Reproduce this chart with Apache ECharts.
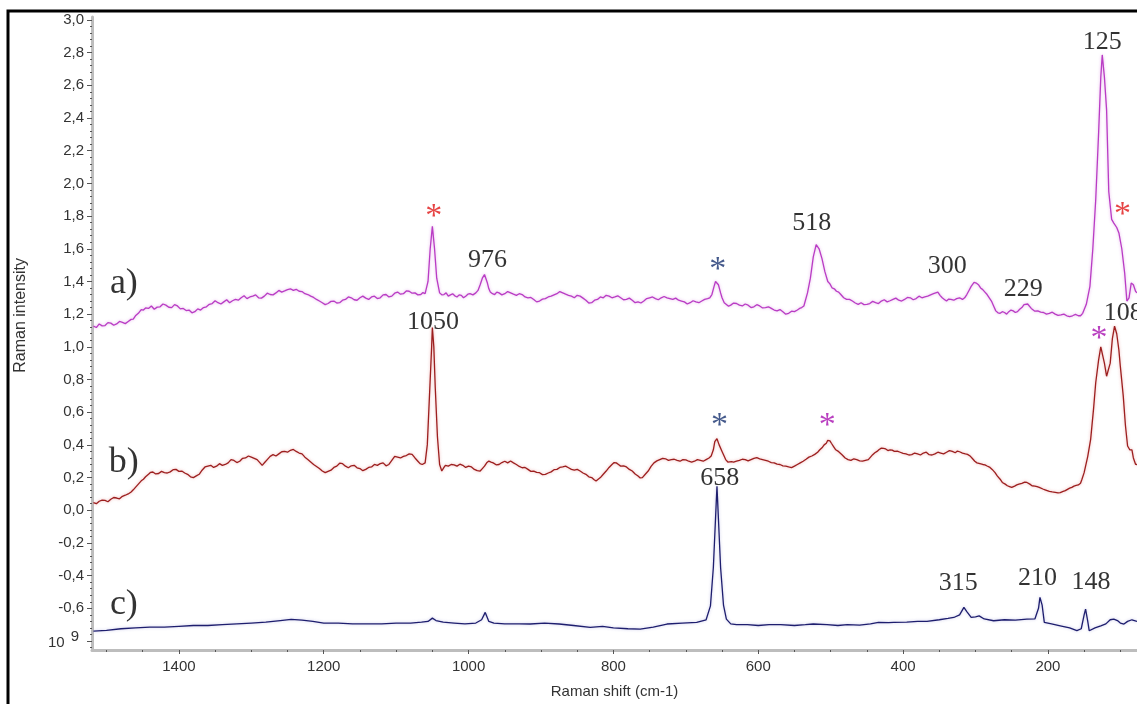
<!DOCTYPE html>
<html>
<head>
<meta charset="utf-8">
<title>Raman spectra</title>
<script src="https://cdn.jsdelivr.net/npm/echarts@6/dist/echarts.min.js"></script>
<style>
  html, body { margin: 0; padding: 0; background: #fff; }
  #chart { width: 1137px; height: 704px; }
</style>
</head>
<body>
<div id="chart"></div>
<script>
// Spectrum a): [Raman shift (cm-1), intensity]
const spectrumA = [
  [1518,1.127],[1514,1.118],[1510,1.14],[1506,1.128],[1502,1.13],[1498,1.148],[1494,1.145],[1490,1.132],[1486,1.14],[1482,1.155],
  [1478,1.15],[1474,1.142],[1470,1.155],[1466,1.168],[1463,1.17],[1460,1.19],[1456,1.205],[1452,1.228],[1449,1.225],[1446,1.238],
  [1442,1.235],[1438,1.25],[1434,1.23],[1430,1.243],[1426,1.245],[1422,1.262],[1418,1.255],[1414,1.242],[1410,1.24],[1406,1.258],
  [1402,1.25],[1398,1.232],[1394,1.235],[1390,1.222],[1386,1.225],[1382,1.208],[1378,1.215],[1374,1.232],[1370,1.225],[1366,1.24],
  [1362,1.245],[1358,1.26],[1354,1.265],[1350,1.282],[1346,1.27],[1342,1.262],[1338,1.275],[1334,1.288],[1330,1.27],[1326,1.282],
  [1322,1.29],[1318,1.285],[1314,1.3],[1310,1.312],[1306,1.295],[1302,1.305],[1298,1.31],[1294,1.318],[1290,1.3],[1286,1.298],
  [1282,1.31],[1278,1.328],[1274,1.32],[1270,1.318],[1266,1.33],[1262,1.345],[1258,1.335],[1254,1.342],[1250,1.35],[1246,1.355],
  [1242,1.345],[1238,1.352],[1234,1.34],[1230,1.338],[1226,1.325],[1222,1.32],[1218,1.31],[1214,1.302],[1210,1.29],[1206,1.28],
  [1202,1.27],[1198,1.258],[1194,1.265],[1190,1.278],[1186,1.28],[1182,1.268],[1178,1.27],[1174,1.285],[1170,1.29],[1166,1.305],
  [1162,1.3],[1158,1.288],[1154,1.285],[1150,1.3],[1146,1.31],[1142,1.298],[1138,1.29],[1134,1.305],[1130,1.31],[1126,1.295],
  [1122,1.3],[1118,1.318],[1114,1.32],[1110,1.305],[1106,1.31],[1102,1.328],[1098,1.335],[1094,1.322],[1090,1.325],[1086,1.342],
  [1082,1.34],[1078,1.328],[1074,1.33],[1070,1.318],[1066,1.32],[1063,1.332],[1060,1.325],[1056,1.4],[1053,1.6],[1050,1.737],
  [1047,1.6],[1044,1.42],[1040,1.33],[1037,1.318],[1034,1.32],[1031,1.33],[1028,1.31],[1025,1.318],[1022,1.325],[1019,1.312],
  [1016,1.305],[1013,1.318],[1010,1.315],[1007,1.3],[1004,1.31],[1001,1.322],[998,1.325],[994,1.318],[990,1.33],[987,1.345],
  [984,1.38],[981,1.42],[978,1.442],[976,1.43],[974,1.39],[972,1.355],[970,1.335],[967,1.325],[964,1.32],[961,1.335],
  [958,1.33],[954,1.318],[950,1.325],[946,1.338],[942,1.33],[938,1.322],[934,1.315],[930,1.325],[926,1.32],[922,1.305],
  [918,1.3],[914,1.302],[910,1.29],[906,1.275],[902,1.28],[898,1.292],[894,1.295],[890,1.305],[886,1.31],[882,1.318],
  [878,1.325],[874,1.338],[870,1.33],[866,1.322],[862,1.315],[858,1.31],[854,1.3],[850,1.315],[846,1.31],[842,1.298],
  [838,1.285],[834,1.268],[830,1.27],[826,1.285],[822,1.29],[818,1.305],[814,1.3],[810,1.315],[806,1.31],[802,1.3],
  [798,1.305],[794,1.312],[790,1.3],[786,1.288],[782,1.29],[778,1.298],[774,1.285],[770,1.27],[766,1.275],[762,1.268],
  [758,1.28],[754,1.295],[750,1.3],[746,1.305],[742,1.295],[738,1.288],[734,1.3],[730,1.308],[726,1.3],[722,1.295],
  [718,1.29],[714,1.298],[710,1.285],[706,1.28],[702,1.275],[698,1.262],[694,1.27],[690,1.282],[686,1.275],[682,1.27],
  [678,1.28],[674,1.29],[670,1.295],[667,1.3],[664,1.32],[661,1.37],[659,1.4],[657,1.4],[655,1.38],[652,1.33],
  [650,1.3],[647,1.27],[645,1.26],[641,1.248],[638,1.255],[634,1.268],[630,1.265],[626,1.255],[622,1.25],[618,1.262],
  [614,1.255],[610,1.24],[606,1.245],[602,1.258],[598,1.25],[594,1.238],[590,1.24],[586,1.245],[582,1.235],[578,1.225],
  [574,1.22],[570,1.228],[566,1.215],[562,1.2],[558,1.205],[554,1.218],[550,1.215],[546,1.225],[543,1.235],[540,1.24],
  [537,1.25],[532,1.33],[528,1.42],[524,1.55],[520,1.625],[516,1.6],[512,1.54],[508,1.46],[504,1.4],[501,1.385],
  [498,1.36],[495,1.355],[492,1.34],[489,1.335],[486,1.32],[482,1.3],[478,1.29],[474,1.29],[470,1.28],[466,1.268],
  [462,1.26],[458,1.27],[454,1.258],[450,1.26],[446,1.265],[442,1.278],[438,1.27],[434,1.265],[430,1.28],[426,1.288],
  [422,1.275],[418,1.282],[414,1.29],[410,1.298],[406,1.285],[402,1.28],[398,1.29],[394,1.302],[390,1.3],[386,1.288],
  [382,1.295],[378,1.31],[374,1.3],[370,1.305],[366,1.31],[362,1.318],[358,1.325],[355,1.33],[352,1.335],[349,1.315],
  [346,1.3],[343,1.29],[340,1.28],[337,1.292],[334,1.29],[330,1.285],[326,1.295],[322,1.3],[318,1.29],[315,1.3],
  [312,1.32],[309,1.345],[306,1.37],[302,1.395],[299,1.39],[296,1.38],[293,1.36],[290,1.35],[287,1.335],[284,1.32],
  [281,1.3],[278,1.28],[275,1.25],[272,1.22],[269,1.208],[266,1.205],[263,1.215],[260,1.21],[257,1.2],[254,1.215],
  [251,1.225],[248,1.22],[245,1.21],[242,1.215],[239,1.23],[236,1.24],[233,1.258],[231,1.265],[228,1.262],[226,1.25],
  [223,1.235],[221,1.225],[218,1.218],[214,1.22],[210,1.212],[206,1.21],[202,1.2],[198,1.205],[194,1.212],[190,1.2],
  [186,1.192],[182,1.195],[178,1.2],[174,1.19],[170,1.185],[166,1.19],[162,1.198],[158,1.19],[155,1.19],[152,1.205],
  [147,1.26],[142,1.37],[138,1.6],[134,1.9],[130,2.31],[127,2.65],[125,2.786],[122,2.65],[119,2.45],[116,1.95],
  [112,1.78],[109,1.757],[105,1.73],[102,1.697],[98,1.6],[94,1.45],[91,1.28],[88,1.3],[85,1.39],[82,1.38],
  [79,1.34],[77,1.33]
];

// Spectrum b)
const spectrumB = [
  [1518,0.047],[1514,0.04],[1510,0.055],[1506,0.062],[1502,0.06],[1498,0.052],[1494,0.067],[1490,0.078],[1486,0.075],[1482,0.07],
  [1478,0.085],[1474,0.092],[1470,0.1],[1466,0.112],[1463,0.125],[1460,0.14],[1456,0.16],[1452,0.18],[1449,0.19],[1446,0.205],
  [1442,0.22],[1439,0.232],[1436,0.234],[1432,0.222],[1428,0.225],[1424,0.238],[1420,0.23],[1416,0.228],[1412,0.235],[1408,0.248],
  [1404,0.25],[1400,0.238],[1396,0.24],[1392,0.228],[1388,0.22],[1384,0.205],[1380,0.2],[1376,0.21],[1372,0.22],[1368,0.245],
  [1364,0.265],[1360,0.27],[1356,0.275],[1352,0.262],[1348,0.27],[1344,0.285],[1340,0.275],[1336,0.28],[1332,0.29],[1328,0.31],
  [1324,0.305],[1320,0.292],[1316,0.3],[1312,0.318],[1308,0.32],[1304,0.332],[1300,0.325],[1296,0.318],[1292,0.31],[1288,0.29],
  [1285,0.275],[1281,0.295],[1278,0.31],[1274,0.33],[1270,0.34],[1266,0.332],[1262,0.345],[1258,0.358],[1254,0.36],[1250,0.355],
  [1246,0.367],[1242,0.372],[1238,0.36],[1234,0.35],[1230,0.345],[1226,0.325],[1222,0.31],[1218,0.295],[1214,0.28],[1210,0.268],
  [1206,0.255],[1202,0.24],[1198,0.23],[1194,0.238],[1190,0.245],[1186,0.262],[1182,0.27],[1178,0.288],[1174,0.285],[1170,0.27],
  [1166,0.26],[1162,0.272],[1158,0.275],[1154,0.26],[1150,0.255],[1146,0.242],[1142,0.25],[1138,0.262],[1134,0.265],[1130,0.28],
  [1126,0.275],[1122,0.285],[1118,0.29],[1114,0.272],[1110,0.28],[1106,0.305],[1102,0.33],[1098,0.325],[1094,0.32],[1090,0.33],
  [1086,0.335],[1082,0.345],[1078,0.342],[1074,0.32],[1070,0.3],[1067,0.285],[1064,0.28],[1060,0.29],[1057,0.4],[1054,0.7],
  [1051,1.0],[1050,1.118],[1048,1.0],[1046,0.75],[1043,0.45],[1040,0.28],[1037,0.24],[1034,0.262],[1032,0.275],[1028,0.27],
  [1024,0.28],[1020,0.278],[1016,0.27],[1012,0.282],[1008,0.275],[1004,0.262],[1000,0.27],[996,0.265],[992,0.25],[988,0.242],
  [984,0.24],[981,0.255],[978,0.27],[975,0.29],[972,0.301],[969,0.295],[966,0.29],[962,0.278],[958,0.28],[954,0.292],
  [950,0.3],[946,0.29],[942,0.301],[938,0.29],[934,0.28],[930,0.268],[926,0.26],[922,0.262],[918,0.25],[914,0.238],
  [910,0.24],[906,0.232],[902,0.23],[898,0.218],[894,0.22],[890,0.228],[886,0.235],[882,0.248],[878,0.25],[874,0.262],
  [870,0.265],[866,0.27],[862,0.26],[858,0.25],[854,0.245],[850,0.25],[846,0.24],[842,0.228],[838,0.22],[834,0.205],
  [830,0.2],[827,0.188],[824,0.179],[821,0.19],[818,0.2],[814,0.22],[810,0.24],[806,0.262],[802,0.28],[799,0.292],
  [796,0.29],[793,0.28],[790,0.27],[786,0.272],[782,0.265],[778,0.25],[774,0.24],[770,0.222],[766,0.21],[763,0.198],
  [760,0.2],[756,0.22],[752,0.24],[748,0.268],[744,0.29],[740,0.302],[736,0.31],[732,0.318],[728,0.315],[724,0.305],
  [720,0.31],[716,0.312],[712,0.305],[708,0.3],[704,0.31],[700,0.308],[696,0.3],[692,0.295],[688,0.3],[684,0.31],
  [680,0.305],[676,0.3],[672,0.31],[668,0.32],[665,0.332],[662,0.37],[660,0.42],[657,0.438],[654,0.4],[650,0.36],
  [647,0.33],[645,0.31],[642,0.295],[640,0.29],[637,0.298],[634,0.295],[630,0.3],[626,0.305],[622,0.312],[618,0.31],
  [614,0.302],[610,0.31],[606,0.318],[602,0.322],[598,0.315],[594,0.31],[590,0.305],[586,0.3],[582,0.292],[578,0.29],
  [574,0.282],[570,0.28],[566,0.272],[562,0.27],[558,0.265],[554,0.261],[550,0.27],[546,0.28],[542,0.29],[538,0.3],
  [534,0.312],[530,0.325],[526,0.332],[522,0.342],[518,0.355],[515,0.37],[512,0.382],[509,0.4],[506,0.41],[504,0.428],
  [501,0.425],[499,0.41],[496,0.39],[493,0.37],[490,0.362],[487,0.35],[484,0.338],[480,0.32],[476,0.31],[472,0.305],
  [468,0.315],[464,0.31],[460,0.302],[456,0.3],[452,0.305],[448,0.31],[445,0.325],[442,0.34],[439,0.352],[436,0.36],
  [433,0.372],[430,0.38],[427,0.378],[424,0.375],[421,0.365],[418,0.37],[415,0.368],[412,0.36],[408,0.362],[404,0.355],
  [400,0.348],[396,0.345],[392,0.338],[388,0.34],[384,0.35],[380,0.345],[376,0.338],[372,0.35],[368,0.355],[364,0.34],
  [360,0.338],[356,0.345],[352,0.355],[348,0.35],[344,0.345],[340,0.355],[336,0.365],[332,0.36],[328,0.352],[325,0.362],
  [322,0.358],[318,0.35],[314,0.345],[311,0.342],[307,0.33],[304,0.315],[301,0.3],[298,0.29],[294,0.285],[290,0.28],
  [287,0.278],[284,0.271],[280,0.262],[277,0.25],[273,0.23],[270,0.21],[266,0.19],[263,0.17],[259,0.16],[256,0.15],
  [253,0.145],[250,0.14],[246,0.148],[243,0.155],[240,0.16],[236,0.165],[232,0.172],[229,0.17],[225,0.16],[222,0.15],
  [218,0.148],[215,0.145],[212,0.14],[210,0.139],[207,0.13],[204,0.125],[201,0.12],[198,0.115],[194,0.112],[190,0.11],
  [186,0.106],[183,0.108],[179,0.115],[176,0.12],[173,0.128],[170,0.135],[167,0.14],[164,0.148],[161,0.152],[158,0.155],
  [155,0.165],[153,0.19],[150,0.23],[145,0.33],[141,0.434],[137,0.62],[134,0.78],[130,0.92],[127,1.0],[125,1.004],
  [122,0.9],[119,0.82],[117,0.81],[114,0.9],[111,1.05],[108,1.126],[105,1.08],[102,0.98],[100,0.88],[96,0.7],
  [93,0.52],[90,0.393],[87,0.37],[84,0.37],[82,0.32],[79,0.281],[77,0.28]
];

// Spectrum c)
const spectrumC = [
  [1518,-0.74],[1500,-0.735],[1480,-0.725],[1460,-0.72],[1440,-0.715],[1420,-0.715],[1400,-0.71],[1380,-0.705],[1360,-0.705],[1340,-0.7],
  [1320,-0.695],[1300,-0.69],[1280,-0.685],[1260,-0.675],[1245,-0.668],[1230,-0.672],[1215,-0.68],[1200,-0.69],[1180,-0.69],[1160,-0.695],
  [1140,-0.695],[1120,-0.695],[1100,-0.69],[1080,-0.69],[1065,-0.685],[1056,-0.68],[1050,-0.66],[1045,-0.675],[1035,-0.685],[1020,-0.69],
  [1005,-0.695],[990,-0.69],[982,-0.67],[977,-0.625],[972,-0.68],[965,-0.69],[950,-0.695],[930,-0.695],[915,-0.696],[895,-0.69],
  [875,-0.696],[855,-0.705],[832,-0.717],[815,-0.71],[800,-0.72],[780,-0.725],[763,-0.727],[745,-0.715],[726,-0.696],[705,-0.69],
  [685,-0.686],[672,-0.67],[666,-0.585],[662,-0.35],[659,-0.05],[657,0.147],[655,-0.05],[652,-0.35],[648,-0.58],[644,-0.666],
  [638,-0.695],[630,-0.7],[615,-0.7],[600,-0.705],[585,-0.7],[569,-0.7],[550,-0.705],[535,-0.7],[524,-0.696],[505,-0.7],
  [490,-0.705],[477,-0.7],[460,-0.703],[445,-0.695],[434,-0.686],[420,-0.688],[413,-0.686],[395,-0.685],[380,-0.68],[367,-0.68],
  [350,-0.67],[338,-0.662],[330,-0.656],[322,-0.64],[316,-0.594],[312,-0.62],[306,-0.656],[300,-0.652],[295,-0.646],[288,-0.665],
  [275,-0.676],[260,-0.67],[245,-0.672],[229,-0.666],[218,-0.665],[213,-0.6],[211,-0.533],[208,-0.58],[205,-0.686],[195,-0.695],
  [183,-0.707],[170,-0.72],[160,-0.737],[154,-0.725],[150,-0.64],[148,-0.605],[145,-0.68],[143,-0.737],[135,-0.72],[127,-0.707],
  [120,-0.695],[114,-0.67],[109,-0.666],[104,-0.675],[100,-0.69],[95,-0.696],[90,-0.68],[84,-0.67],[77,-0.68]
];

// Annotation texts, their colours and positions (shift, intensity)
const noteText  = ['a)','b)','c)','*','976','*','518','300','229','125','*','1050','108','*','*','*','658','315','210','148'];
const noteShift = [1476,1476,1476,1048,974,656,526,339,234,125,97,1049,96,129.5,653.6,504.7,653,324,214.4,140.5];
const noteValue = [1.385,0.293,-0.574,1.795,1.533,1.472,1.759,1.494,1.353,2.862,1.808,1.151,1.203,1.05,0.513,0.513,0.195,-0.446,-0.415,-0.437];
const noteColor = ['#000','#000','#000','#e01515','#000','#15306e','#000','#000','#000','#000','#e01515','#000','#000','#a810b0','#15306e','#a810b0','#000','#000','#000','#000'];

// Axis ticks
const yTickValues = [-0.8,-0.6,-0.4,-0.2,0,0.2,0.4,0.6,0.8,1.0,1.2,1.4,1.6,1.8,2.0,2.2,2.4,2.6,2.8,3.0];
const xTickValues = [200,400,600,800,1000,1200,1400];

const yMinor = [];
for (let i = -21; i <= 75; i++) yMinor.push(+(i * 0.04).toFixed(2));
const xMinor = [];
for (let v = 100; v <= 1500; v += 50) xMinor.push(v);

const sansFont = "'Liberation Sans Narrow', 'Liberation Sans', Arial, sans-serif";
const serifFont = "'Liberation Serif', 'Times New Roman', serif";

const X_MIN = 77, X_MAX = 1520, Y_MIN = -0.855, Y_MAX = 3.018;

const chart = echarts.init(document.getElementById('chart'), null, { renderer: 'canvas' });

const lineSeries = (name, data, color, halo) => ({
  name, type: 'line', data, showSymbol: false, symbol: 'none',
  xAxisIndex: 0, yAxisIndex: 0,
  lineStyle: { color, width: 1.3, shadowColor: halo, shadowBlur: 3 },
  animation: false, silent: true, z: 3
});

chart.setOption({
  animation: false,
  backgroundColor: '#fff',
  grid: { left: 92, right: 0, top: 17, bottom: 53, containLabel: false },
  xAxis: [
    {
      type: 'value', inverse: true, min: X_MIN, max: X_MAX,
      name: 'Raman shift (cm-1)', nameLocation: 'middle', nameGap: 34,
      nameTextStyle: { fontFamily: sansFont, fontSize: 15, color: '#333' },
      axisLine: { show: true, onZero: false, lineStyle: { color: '#bdbdbd', width: 3 } },
      axisTick: { show: true, customValues: xTickValues, length: 4, lineStyle: { color: '#555', width: 1 } },
      axisLabel: { show: true, customValues: xTickValues, formatter: v => String(v), fontFamily: sansFont, fontSize: 15, color: '#333', margin: 9 },
      splitLine: { show: false }
    },
    {
      type: 'value', inverse: true, min: X_MIN, max: X_MAX, position: 'bottom', gridIndex: 0,
      axisLine: { show: false, onZero: false },
      axisTick: { show: true, customValues: xMinor, length: 2, lineStyle: { color: '#555', width: 1 } },
      axisLabel: { show: false },
      splitLine: { show: false }
    }
  ],
  yAxis: [
    {
      type: 'value', min: Y_MIN, max: Y_MAX,
      axisLine: { show: true, onZero: false, lineStyle: { color: '#bdbdbd', width: 3 } },
      axisTick: { show: true, customValues: yTickValues, length: 5, lineStyle: { color: '#555', width: 1 } },
      axisLabel: {
        show: true, customValues: yTickValues, fontFamily: sansFont, fontSize: 15, color: '#333', margin: 8,
        formatter: v => Math.abs(v + 0.8) < 1e-6 ? '{m|10}{e|9}' : v.toFixed(1).replace('.', ','),
        rich: {
          m: { fontFamily: sansFont, fontSize: 15, color: '#333', padding: [4, 6, 0, 0] },
          e: { fontFamily: sansFont, fontSize: 15, color: '#333', padding: [0, 5, 8, 0] }
        }
      },
      splitLine: { show: false }
    },
    {
      type: 'value', min: Y_MIN, max: Y_MAX, position: 'left',
      axisLine: { show: false, onZero: false },
      axisTick: { show: true, customValues: yMinor, length: 2, lineStyle: { color: '#555', width: 1 } },
      axisLabel: { show: false },
      splitLine: { show: false }
    }
  ],
  graphic: [
    {
      type: 'text', left: 13, top: 258, rotation: Math.PI / 2, z: 10,
      style: { text: 'Raman intensity', fontFamily: "'Liberation Sans', Arial, sans-serif", fontSize: 16, fill: '#333' }
    },
    {
      type: 'rect', z: 20, silent: true,
      shape: { x: 8, y: 11, width: 1300, height: 900 },
      style: { fill: 'none', stroke: '#000', lineWidth: 3 }
    }
  ],
  series: [
    lineSeries('a)', spectrumA, '#b93cc4', 'rgba(210,120,220,0.6)'),
    lineSeries('b)', spectrumB, '#9c1f1f', 'rgba(220,110,110,0.55)'),
    lineSeries('c)', spectrumC, '#1e1e6e', 'rgba(120,120,200,0.45)'),
    {
      name: 'notes', type: 'scatter', symbolSize: 0, silent: true, z: 5,
      data: noteText.map((t, i) => ({
        value: [noteShift[i], noteValue[i]],
        label: {
          show: true, position: 'inside', formatter: t,
          fontFamily: serifFont,
          fontSize: t.indexOf(')') >= 0 ? 36 : (t === '*' ? 34 : 26),
          color: noteColor[i]
        }
      }))
    }
  ]
});
</script>
</body>
</html>
